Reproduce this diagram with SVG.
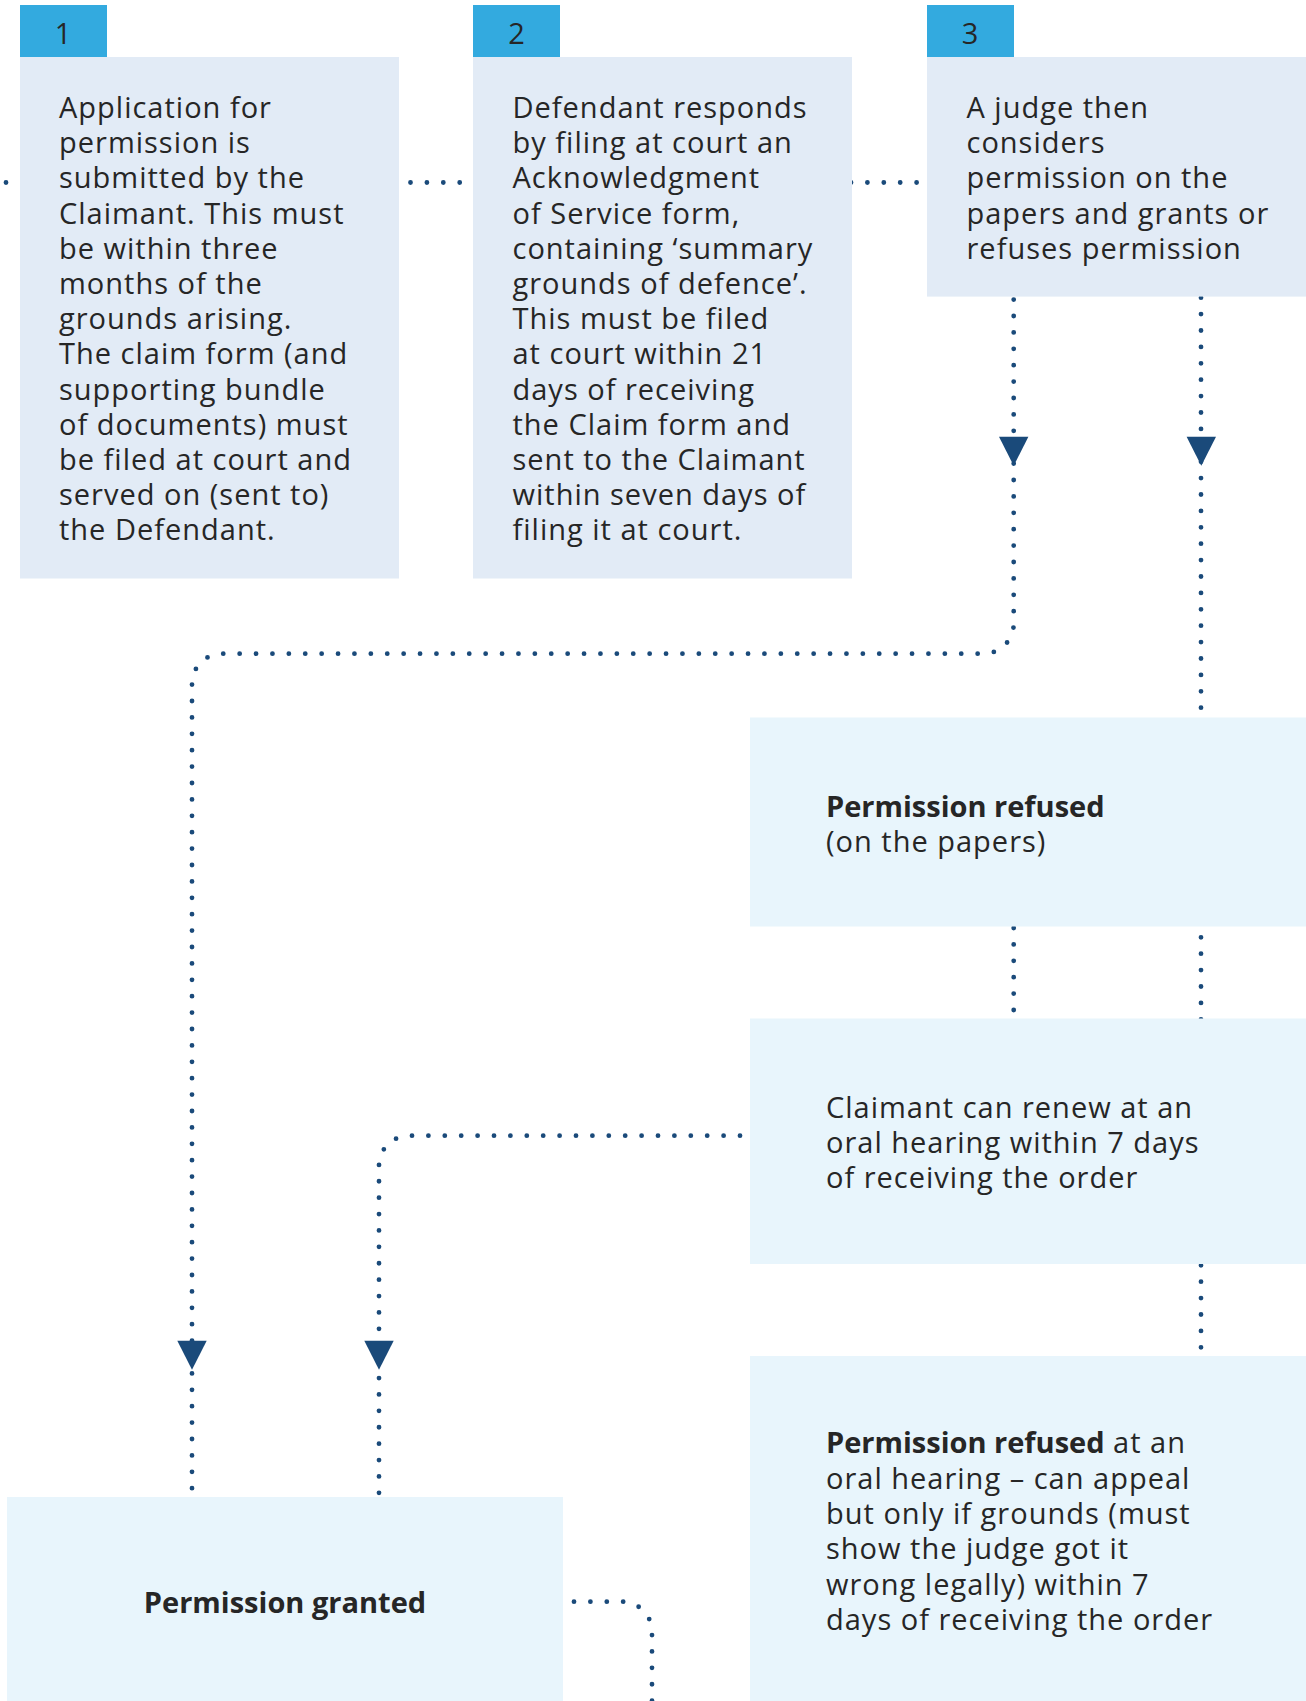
<svg xmlns="http://www.w3.org/2000/svg" width="1306" height="1701" viewBox="0 0 1306 1701">
<style>
.txt{font-family:"Open Sans","Liberation Sans",sans-serif;font-size:29px;fill:#262626;letter-spacing:1px}
.b{font-weight:bold;letter-spacing:0px}
.tab{fill:#33AADF}
.card{fill:#E2EBF6}
.lite{fill:#E8F5FC}
.dot{fill:none;stroke:#1A4A7A;stroke-width:4.8;stroke-linecap:round;stroke-dasharray:0 16.4}
.arr{fill:#1A4A7A}
</style>
<defs>
<polygon id="arrowhead" points="-14.7,0 14.7,0 0,29" class="arr"/>
</defs>
<rect width="1306" height="1701" fill="#FFFFFF"/>
<g id="connectors">
<path class="dot" d="M6 182.5 H40"/>
<path class="dot" d="M410.5 182.5 H480"/>
<path class="dot" d="M851 182.5 H940"/>
<path class="dot" d="M1013.7 299.6 V623.7 A30 30 0 0 1 983.7 653.7 H222 A30 30 0 0 0 192 683.7 V1500"/>
<path class="dot" d="M1201 297.7 V1360"/>
<path class="dot" d="M1013.7 928 V1018"/>
<path class="dot" d="M740 1135.7 H409 A30 30 0 0 0 379 1165.7 V1500"/>
<path class="dot" d="M574 1601.7 H622 A30 30 0 0 1 652 1631.7 V1710"/>
<use href="#arrowhead" x="1013.7" y="436.7"/>
<use href="#arrowhead" x="1201.3" y="436.7"/>
<use href="#arrowhead" x="192" y="1340.7"/>
<use href="#arrowhead" x="379" y="1340.7"/>
</g>
<g id="step1">
<rect class="tab" x="20" y="5" width="87" height="52"/>
<text class="txt" x="63.5" y="44.3" text-anchor="middle">1</text>
<rect class="card" x="20" y="57" width="379" height="521.5"/>
<text class="txt" x="59">
<tspan x="59" y="118">Application for</tspan>
<tspan x="59" y="153.2">permission is</tspan>
<tspan x="59" y="188.4">submitted by the</tspan>
<tspan x="59" y="223.6">Claimant. This must</tspan>
<tspan x="59" y="258.8">be within three</tspan>
<tspan x="59" y="294">months of the</tspan>
<tspan x="59" y="329.2">grounds arising.</tspan>
<tspan x="59" y="364.4">The claim form (and</tspan>
<tspan x="59" y="399.6">supporting bundle</tspan>
<tspan x="59" y="434.8">of documents) must</tspan>
<tspan x="59" y="470">be filed at court and</tspan>
<tspan x="59" y="505.2">served on (sent to)</tspan>
<tspan x="59" y="540.4">the Defendant.</tspan>
</text>
</g>
<g id="step2">
<rect class="tab" x="473" y="5" width="87" height="52"/>
<text class="txt" x="517" y="44.3" text-anchor="middle">2</text>
<rect class="card" x="473" y="57" width="379" height="521.5"/>
<text class="txt">
<tspan x="512.5" y="118">Defendant responds</tspan>
<tspan x="512.5" y="153.2">by filing at court an</tspan>
<tspan x="512.5" y="188.4">Acknowledgment</tspan>
<tspan x="512.5" y="223.6">of Service form,</tspan>
<tspan x="512.5" y="258.8">containing ‘summary</tspan>
<tspan x="512.5" y="294">grounds of defence’.</tspan>
<tspan x="512.5" y="329.2">This must be filed</tspan>
<tspan x="512.5" y="364.4">at court within 21</tspan>
<tspan x="512.5" y="399.6">days of receiving</tspan>
<tspan x="512.5" y="434.8">the Claim form and</tspan>
<tspan x="512.5" y="470">sent to the Claimant</tspan>
<tspan x="512.5" y="505.2">within seven days of</tspan>
<tspan x="512.5" y="540.4">filing it at court.</tspan>
</text>
</g>
<g id="step3">
<rect class="tab" x="927" y="5" width="87" height="52"/>
<text class="txt" x="970.5" y="44.3" text-anchor="middle">3</text>
<rect class="card" x="927" y="57" width="379" height="239.6"/>
<text class="txt">
<tspan x="966.5" y="118">A judge then</tspan>
<tspan x="966.5" y="153.2">considers</tspan>
<tspan x="966.5" y="188.4">permission on the</tspan>
<tspan x="966.5" y="223.6">papers and grants or</tspan>
<tspan x="966.5" y="258.8">refuses permission</tspan>
</text>
</g>
<g id="refused-papers">
<rect class="lite" x="750" y="717.5" width="556" height="209"/>
<text class="txt">
<tspan x="826" y="816.5"><tspan class="b">Permission refused</tspan></tspan>
<tspan x="826" y="851.5">(on the papers)</tspan>
</text>
</g>
<g id="renew">
<rect class="lite" x="750" y="1018.5" width="556" height="245.5"/>
<text class="txt">
<tspan x="826" y="1117.5">Claimant can renew at an</tspan>
<tspan x="826" y="1152.8">oral hearing within 7 days</tspan>
<tspan x="826" y="1188">of receiving the order</tspan>
</text>
</g>
<g id="refused-oral">
<rect class="lite" x="750" y="1356" width="556" height="345"/>
<text class="txt">
<tspan x="826" y="1453.3"><tspan class="b">Permission refused</tspan> at an</tspan>
<tspan x="826" y="1488.6">oral hearing – can appeal</tspan>
<tspan x="826" y="1523.9">but only if grounds (must</tspan>
<tspan x="826" y="1559.2">show the judge got it</tspan>
<tspan x="826" y="1594.5">wrong legally) within 7</tspan>
<tspan x="826" y="1629.8">days of receiving the order</tspan>
</text>
</g>
<g id="granted">
<rect class="lite" x="7" y="1497" width="556" height="204"/>
<text class="txt b" x="285" y="1612.5" text-anchor="middle">Permission granted</text>
</g>
</svg>
